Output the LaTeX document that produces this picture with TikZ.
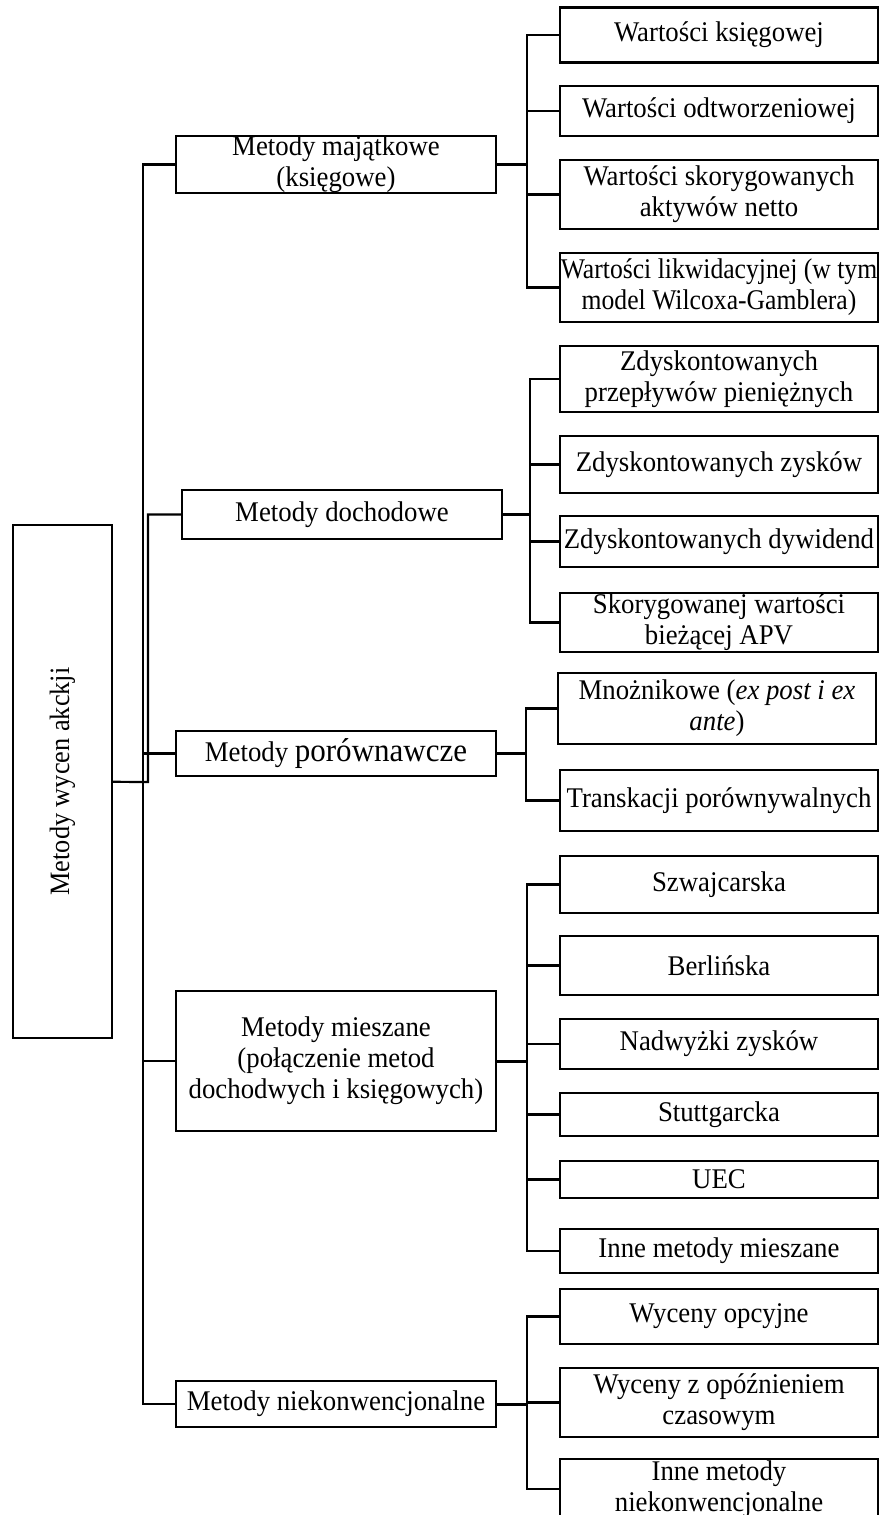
\documentclass[tikz,border=0pt]{standalone}
\usepackage{fontspec}
\newfontfamily\tnr[FakeStretch=0.94]{Liberation Serif}
\newfontfamily\tnrc[FakeStretch=0.9]{Liberation Serif}
\begin{document}
\begin{tikzpicture}[x=1pt, y=-1pt,
  leaf/.style={draw, line width=2.3pt, align=center, inner sep=0pt, minimum width=318pt,
    font=\tnr\fontsize{28.5}{31}\selectfont},
  group/.style={leaf, minimum width=320pt},
  root/.style={draw, line width=2pt, rotate=90, inner sep=0pt, font=\tnr\fontsize{28}{31}\selectfont},
  link/.style={line width=2.2pt},
  stem/.style={line width=3pt}
]
\useasboundingbox (0,0) rectangle (880,1515);

\node[root, minimum width=513pt, minimum height=99pt] (r) at (62.5,781.5) {Metody wycen akckji};

\node[group, minimum height=55pt] (g1) at (336,164.5) {Metody majątkowe\\(księgowe)};
\node[group, minimum height=49pt] (g2) at (342,514.5) {Metody dochodowe};
\node[group, minimum height=45pt] (g3) at (336,753.5) {Metody {\fontsize{33}{36}\selectfont porównawcze}};
\node[group, minimum height=140pt] (g4) at (336,1061) {Metody mieszane\\(połączenie metod\\dochodwych i księgowych)};
\node[group, minimum height=46pt] (g5) at (336,1404) {Metody niekonwencjonalne};

\node[leaf, minimum height=55pt] (k1) at (719,35) {Wartości księgowej};
\node[leaf, minimum height=50pt] (k2) at (719,111) {Wartości odtworzeniowej};
\node[leaf, minimum height=69pt] (k3) at (719,194.5) {Wartości skorygowanych\\aktywów netto};
\node[leaf, minimum height=69pt, font=\tnrc\fontsize{28.5}{31}\selectfont] (k4) at (719,287.5) {Wartości likwidacyjnej (w tym\\model Wilcoxa-Gamblera)};

\node[leaf, minimum height=66pt] (d1) at (719,379) {Zdyskontowanych\\przepływów pieniężnych};
\node[leaf, minimum height=57pt] (d2) at (719,464.5) {Zdyskontowanych zysków};
\node[leaf, minimum height=51pt] (d3) at (719,541.5) {Zdyskontowanych dywidend};
\node[leaf, minimum height=59pt] (d4) at (719,622.5) {Skorygowanej wartości\\bieżącej APV};

\node[leaf, minimum height=71pt] (p1) at (717,708.5) {Mnożnikowe (\textit{ex post i ex}\\\textit{ante})};
\node[leaf, minimum height=61pt] (p2) at (719,800.5) {Transkacji porównywalnych};

\node[leaf, minimum height=57pt] (m1) at (719,884.5) {Szwajcarska};
\node[leaf, minimum height=59pt] (m2) at (719,965.5) {Berlińska};
\node[leaf, minimum height=50pt] (m3) at (719,1044) {Nadwyżki zysków};
\node[leaf, minimum height=43pt] (m4) at (719,1114.5) {Stuttgarcka};
\node[leaf, minimum height=37pt] (m5) at (719,1179.5) {UEC};
\node[leaf, minimum height=44pt] (m6) at (719,1251) {Inne metody mieszane};

\node[leaf, minimum height=55pt] (n1) at (719,1316.5) {Wyceny opcyjne};
\node[leaf, minimum height=69pt] (n2) at (719,1402.5) {Wyceny z opóźnieniem\\czasowym};
\node[leaf, minimum height=60pt] (n3) at (719,1489) {Inne metody\\niekonwencjonalne};

\coordinate (rb) at (148,782);
\coordinate (mb) at (143,782);
\coordinate (b1) at (527,164.5);
\coordinate (b2) at (530,514.5);
\coordinate (b3) at (526,753.5);
\coordinate (b4) at (527,1061);
\coordinate (b5) at (527,1404);

\draw[link] (r) -- (rb) |- (g2);
\foreach \g in {g1,g3,g4,g5} \draw[link] (mb) |- (\g);

\foreach \g/\b in {g1/b1,g2/b2,g3/b3,g4/b4,g5/b5} \draw[stem] (\g) -- (\b);

\foreach \c in {k1,k2,k3,k4} \draw[link] (b1) |- (\c);
\foreach \c in {d1,d2,d3,d4} \draw[link] (b2) |- (\c);
\foreach \c in {p1,p2} \draw[link] (b3) |- (\c);
\foreach \c in {m1,m2,m3,m4,m5,m6} \draw[link] (b4) |- (\c);
\foreach \c in {n1,n2,n3} \draw[link] (b5) |- (\c);
\end{tikzpicture}
\end{document}
